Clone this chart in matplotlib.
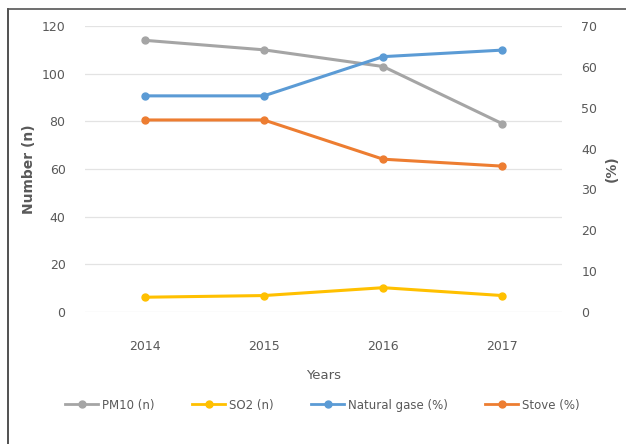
import matplotlib.pyplot as plt
from matplotlib.lines import Line2D

years = ['2014', '2015', '2016', '2017']
pm10 = [114, 110, 103, 79]
so2 = [6.2, 6.9, 10.2, 6.9]
natural_gas = [52.9, 52.9, 62.5, 64.1]
stove = [47.0, 47.0, 37.4, 35.7]

grey = '#A5A5A5'
yellow = '#FFC000'
blue = '#5B9BD5'
orange = '#ED7D31'
text_col = '#595959'

fig = plt.figure(figsize=(6.26, 4.44), dpi=100)
ax = fig.add_axes([85/626, 1-312/444, (562-85)/626, (312-26)/444])
ax2 = ax.twinx()

x = range(len(years))
ax.plot(x, pm10, color=grey, lw=2.2, marker='o', ms=5, zorder=3)
ax.plot(x, so2, color=yellow, lw=2.2, marker='o', ms=5, zorder=3)
ax2.plot(x, natural_gas, color=blue, lw=2.2, marker='o', ms=5, zorder=3)
ax2.plot(x, stove, color=orange, lw=2.2, marker='o', ms=5, zorder=3)

ax.set_xlim(-0.5, 3.5)
ax.set_ylim(0, 120)
ax.set_yticks(range(0, 121, 20))
ax2.set_ylim(0, 70)
ax2.set_yticks(range(0, 71, 10))
ax.set_xticks(list(x))
ax.set_xticklabels(years)

ax.grid(axis='y', color='#E3E3E3', lw=0.9)
ax.set_axisbelow(True)
for a in (ax, ax2):
    for s in a.spines.values():
        s.set_visible(False)
    a.tick_params(length=0, colors=text_col, labelsize=9)
ax.tick_params(axis='y', pad=14)
ax.tick_params(axis='x', pad=20)
ax2.tick_params(axis='y', pad=14)

ax.set_ylabel('Number (n)', color=text_col, fontsize=10, fontweight='bold', labelpad=4)
ax2.set_ylabel('(%)', color=text_col, fontsize=10, fontweight='bold', labelpad=5)
ax.set_xlabel('Years', color=text_col, fontsize=9.5, labelpad=12)

handles = [Line2D([], [], color=c, lw=2, marker='o', ms=5) for c in (grey, yellow, blue, orange)]
labels = ['PM10 (n)', 'SO2 (n)', 'Natural gase (%)', 'Stove (%)']
fig.legend(handles, labels, loc='center', bbox_to_anchor=(0.515, 1-405/444), ncol=4,
           frameon=False, fontsize=8.5, labelcolor=text_col, handlelength=2.8,
           handletextpad=0.3, columnspacing=3.2)

# frame around figure (top and left edges visible)
fig.add_artist(Line2D([8/626, 8/626], [0, 1-9/444], color='#333333', lw=1.2))
fig.add_artist(Line2D([8/626, 1], [1-9/444, 1-9/444], color='#555555', lw=1.2))

fig.savefig('out.png', dpi=100)
